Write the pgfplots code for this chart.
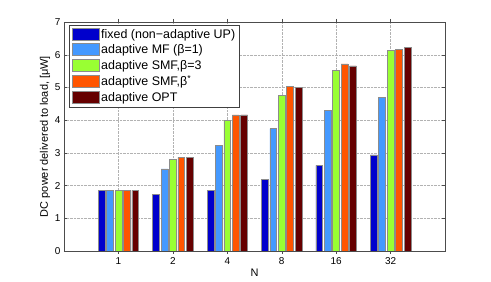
\documentclass[border=0pt]{standalone}
\usepackage{fontspec}
\setmainfont{Liberation Sans}
\usepackage{pgfplots}
\pgfplotsset{compat=1.18}
\definecolor{cfix}{RGB}{0,0,204}
\definecolor{cmf}{RGB}{68,153,255}
\definecolor{csmf}{RGB}{153,255,51}
\definecolor{csmfs}{RGB}{255,85,0}
\definecolor{copt}{RGB}{102,0,0}
\begin{document}
\begin{tikzpicture}[x=1bp,y=1bp]
\begin{axis}[
  scale only axis,
  width=381bp, height=229bp,
  xmin=0, xmax=7, ymin=0, ymax=7,
  xtick={1,2,3,4,5,6},
  xticklabels={1,2,4,8,16,32},
  ytick={0,1,2,3,4,5,6,7},
  tick align=inside,
  tick pos=both,
  major tick length=3bp,
  grid=major,
  major grid style={densely dotted, gray!60, line width=0.4pt},
  axis line style={black!70},
  tick style={black!70},
  ticklabel style={font=\fontsize{10}{11}\selectfont},
  /pgf/number format/assume math mode=true,
  xlabel={N},
  ylabel={DC power delivered to load, [μW]},
  label style={font=\fontsize{11}{12}\selectfont},
  xlabel style={yshift=2bp},
  ylabel style={yshift=-2bp},
  ybar,
  bar width=0.125,
  every axis plot/.append style={draw=black!45, line width=0.6pt},
  legend style={at={(0.013,0.987)}, anchor=north west, font=\fontsize{12.5}{13}\selectfont,
    draw=black!75, row sep=0.8bp, inner sep=2.5bp},
  legend cell align=left,
  legend image code/.code={\draw[#1] (0bp,-5.5bp) rectangle (27bp,6.5bp);},
]
\addplot[fill=cfix, bar shift=-0.31] coordinates {(1,1.85) (2,1.73) (3,1.85) (4,2.20) (5,2.62) (6,2.94)};
\addplot[fill=cmf, bar shift=-0.155] coordinates {(1,1.85) (2,2.51) (3,3.23) (4,3.74) (5,4.29) (6,4.70)};
\addplot[fill=csmf, bar shift=0] coordinates {(1,1.85) (2,2.81) (3,4.00) (4,4.76) (5,5.53) (6,6.14)};
\addplot[fill=csmfs, bar shift=0.155] coordinates {(1,1.85) (2,2.86) (3,4.16) (4,5.03) (5,5.72) (6,6.16)};
\addplot[fill=copt, bar shift=0.31] coordinates {(1,1.85) (2,2.87) (3,4.16) (4,5.01) (5,5.66) (6,6.22)};
\legend{fixed (non−adaptive UP), adaptive MF (β=1), {adaptive SMF,β=3}, {adaptive SMF,β\textsuperscript{*}}, adaptive OPT}
\end{axis}
\path[use as bounding box] (-64bp,-31bp) rectangle (427bp,251bp);
\end{tikzpicture}
\end{document}
